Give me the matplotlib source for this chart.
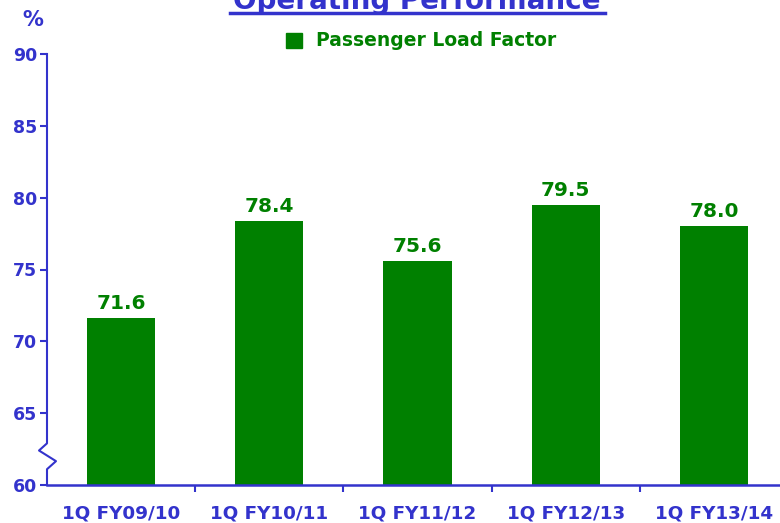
import matplotlib.pyplot as plt
from matplotlib.lines import Line2D

categories = ['1Q FY09/10', '1Q FY10/11', '1Q FY11/12', '1Q FY12/13', '1Q FY13/14']
load_factor = [71.6, 78.4, 75.6, 79.5, 78.0]
yticks = [60, 65, 70, 75, 80, 85, 90]

blue = '#3333CC'
green = '#008000'
plt.rcParams['font.family'] = ['DejaVu Sans']
plt.rcParams['font.weight'] = 'bold'

W, H = 780, 523
fig = plt.figure(figsize=(W / 100, H / 100), dpi=100)
# axes runs off the right edge, like the original slide
ax = fig.add_axes([47 / W, (H - 485) / H, 741 / W, 431 / H])

x = list(range(len(categories)))
ax.bar(x, load_factor, width=0.46, color=green, zorder=2)
for xi, v in zip(x, load_factor):
    ax.text(xi, v + 0.35, f'{v:.1f}', ha='center', va='bottom',
            color=green, fontsize=14.5, fontweight='bold')

ax.set_ylim(60, 90)
ax.set_xlim(-0.5, len(categories) - 0.5)
ax.set_yticks(yticks)
ax.set_yticklabels([str(t) for t in yticks], color=blue, fontsize=12.5, fontweight='bold')
ax.set_xticks(x)
ax.set_xticklabels(categories, color=blue, fontsize=13.2, fontweight='bold')
ax.tick_params(axis='x', length=0, pad=14)
ax.tick_params(axis='y', length=5, width=1.5, color=blue, direction='out', pad=2)
# small ticks between categories
ax.set_xticks([i + 0.5 for i in x[:-1]], minor=True)
ax.tick_params(axis='x', which='minor', length=5, width=1.5, color=blue, direction='out')

for s in ['top', 'right', 'left']:
    ax.spines[s].set_visible(False)
ax.spines['bottom'].set_color(blue)
ax.spines['bottom'].set_linewidth(1.8)

# left axis line with a break zigzag near the bottom
tr = ax.get_yaxis_transform()
bx = [0, 0, -8 / 741, 9 / 741, 0, 0]
by = [90, 62.9, 62.4, 61.66, 61.1, 60]
ax.add_line(Line2D(bx, by, transform=tr, color=blue, lw=1.5, clip_on=False))

# % label
fig.text(33 / W, 1 - 20 / H, '%', color=blue, fontsize=15, fontweight='bold',
         ha='center', va='center')

# title, underlined, cut at the top
fig.text(417 / W, 1 - 9 / H, 'Operating Performance', color=blue, fontsize=20,
         fontweight='bold', ha='center', va='baseline')
fig.add_artist(Line2D([230 / W, 605 / W], [1 - 13 / H, 1 - 13 / H],
                      transform=fig.transFigure, color=blue, lw=2.5))

# legend
fig.patches.append(plt.Rectangle((286 / W, 1 - 48 / H), 16 / W, 15 / H,
                                 transform=fig.transFigure, color=green))
fig.text(316 / W, 1 - 41 / H, 'Passenger Load Factor', color=green, fontsize=13.5,
         fontweight='bold', ha='left', va='center')

fig.savefig('out.png', dpi=100)
